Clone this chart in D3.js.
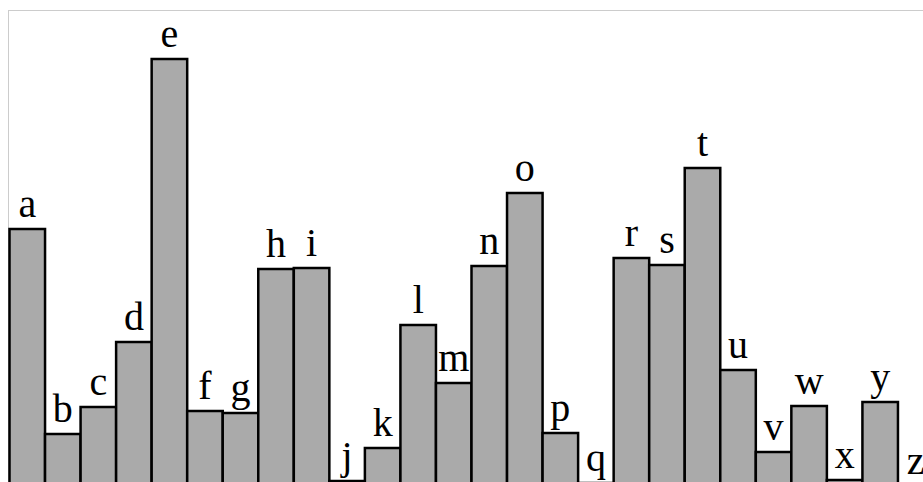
<!DOCTYPE html>
<html>
<head>
<meta charset="utf-8">
<script src="https://cdn.jsdelivr.net/npm/d3@7"></script>
<style>
  html, body { margin: 0; padding: 0; overflow: hidden; background: #fff; }
  #graf {
    position: absolute;
    left: 8px;
    top: 10px;
    width: 960px;
    height: 520px;
    border-top: 1px solid #ccc;
    border-left: 1px solid #ccc;
  }
  .etiqueta { font-family: "Liberation Serif", serif; font-size: 40px; fill: #000; }
</style>
</head>
<body>
<div id="graf"></div>
<script>
// Datos
var letras  = ['a','b','c','d','e','f','g','h','i','j','k','l','m','n','o','p','q','r','s','t','u','v','w','x','y','z']
var valores = [261, 56, 83, 148, 431, 79, 77, 221, 222, 9, 42, 165, 107, 224, 297, 57, 7, 232, 225, 322, 120, 38, 84, 10, 88, 4]

var data = letras.map((l, i) => ({ letra: l, valor: valores[i] }))

var ancho = 925
var alto  = 479   // linea base (casi fuera de la ventana)

graf = d3.select('#graf')
svg = graf.append('svg')
          .attr('width', ancho)
          .attr('height', 520)
          .style('position', 'absolute')
          .style('left', '0px')
          .style('top', '0px')
          .style('overflow', 'visible')

// Escaladores
x = d3.scaleBand()
      .domain(letras)
      .range([0.5, 924.5])
      .padding(0)
y = d3.scaleLinear()
      .domain([0, 500])
      .range([alto, alto - 500])

g = svg.append('g')

g.selectAll('rect')
  .data(data)
  .enter().append('rect')
    .attr('x', d => x(d.letra))
    .attr('y', d => y(d.valor))
    .attr('width', x.bandwidth())
    .attr('height', d => y(0) - y(d.valor) + 20)
    .attr('fill', '#aaa')
    .attr('stroke', '#000')
    .attr('stroke-width', 2.5)

g.selectAll('text')
  .data(data)
  .enter().append('text')
    .attr('class', 'etiqueta')
    .attr('x', d => x(d.letra) + x.bandwidth() / 2)
    .attr('y', d => y(d.valor) - 12)
    .attr('text-anchor', 'middle')
    .text(d => d.letra)
</script>
</body>
</html>
